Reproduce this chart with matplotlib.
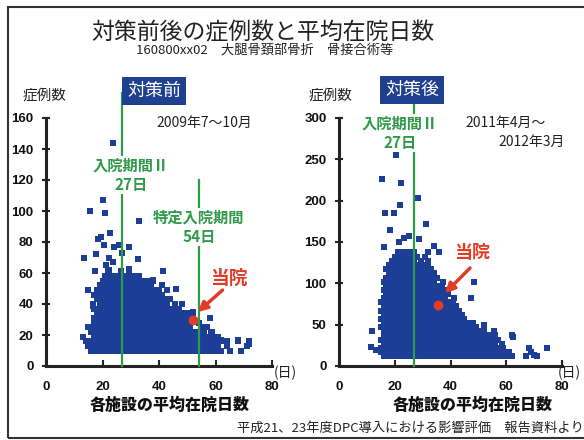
import matplotlib.pyplot as plt
from matplotlib.patches import Rectangle

plt.rcParams['font.family'] = ['Noto Sans CJK JP', 'DejaVu Sans']

W, H = 584, 440

# 対策前 (2009年7〜10月): 症例数ごとの各施設の平均在院日数
before_rows = [
    (10, [16, 18, 20, 22, 24, 26, 28, 30, 32, 34, 36, 38, 40, 42, 44, 46, 48, 50, 52, 54, 56, 58, 60, 62, 65, 69]),
    (13, [15, 17, 19, 21, 23, 25, 27, 29, 31, 33, 35, 37, 39, 41, 43, 45, 47, 49, 51, 53, 55, 57, 59, 61, 64, 71]),
    (16, [14, 16, 18, 20, 22, 24, 26, 28, 30, 32, 34, 36, 38, 40, 42, 44, 46, 48, 50, 52, 54, 56, 58, 60, 62, 64, 68, 72]),
    (19, [13, 17, 19, 21, 23, 25, 27, 29, 31, 33, 35, 37, 39, 41, 43, 45, 47, 49, 51, 53, 55, 57, 59, 61]),
    (22, [16, 18, 20, 22, 24, 26, 28, 30, 32, 34, 36, 38, 40, 42, 44, 46, 48, 50, 52, 54, 56, 58.5]),
    (25, [15, 17, 19, 21, 23, 25, 27, 29, 31, 33, 35, 37, 39, 41, 43, 45, 47, 49, 51, 55, 57]),
    (28, [17, 19, 21, 23, 25, 27, 29, 31, 33, 35, 37, 39, 41, 43, 45, 47, 49, 51, 54]),
    (31, [17, 19, 21, 23, 25, 27, 29, 31, 33, 35, 37, 39, 41, 43, 45, 47, 49, 51, 58]),
    (34, [18, 20, 22, 24, 26, 28, 30, 32, 34, 36, 38, 40, 42, 44, 46, 48, 50, 52]),
    (37, [17, 19, 21, 23, 25, 27, 29, 31, 33, 35, 37, 39, 41, 43, 45, 47]),
    (40, [16.5, 19, 21, 23, 25, 27, 29, 31, 33, 35, 37, 39, 41, 43, 45.5, 48]),
    (43, [18, 20, 22, 24, 26, 28, 30, 32, 34, 36, 38, 40, 42, 44]),
    (46, [17, 19, 21, 23, 25, 27, 29, 31, 33, 35, 37, 39, 41]),
    (49, [15, 18, 20, 22, 24, 26, 28, 30, 32, 34, 36, 38, 40, 43]),
    (52, [19, 21, 23, 25, 27, 29, 31, 33, 35, 37, 41]),
    (55, [20, 22, 24, 26, 28, 30, 32, 34, 36, 38]),
    (58, [21, 23, 25, 27, 29, 31, 33]),
    (61, [17.5, 22, 26.5, 29.5, 41.3]),
]
before_days = [23.7, 20.1, 15.5, 20.8, 32.8, 22.6, 18.4, 19.4, 20.5, 24.0, 29.3, 25.8,
               26.9, 13.4, 17.7, 22.3, 23.7, 21.2, 32.5, 22.3, 29.3, 37.8, 46.0, 52.0,
               15.9, 16.6, 58.6, 61.8, 68.0, 71.8]
before_cases = [144, 107, 100, 99, 93.5, 86, 82, 83, 78, 77, 77, 78,
                73, 70, 72, 70, 67, 65, 69, 62, 62.5, 55.5, 50, 35,
                25, 39, 22, 17, 17, 14]

# 対策後 (2011年4月〜2012年3月)
after_rows = [
    (12, [16, 18, 20, 22, 24, 26, 28, 30, 32, 34, 36, 38, 40, 42, 44, 46, 48, 50, 52, 54, 56, 58, 60, 62, 67, 71]),
    (17, [15, 17, 19, 21, 23, 25, 27, 29, 31, 33, 35, 37, 39, 41, 43, 45, 47, 49, 51, 53, 55, 57, 59, 61, 69]),
    (22, [15, 17, 19, 21, 23, 25, 27, 29, 31, 33, 35, 37, 39, 41, 43, 45, 47, 49, 51, 53, 55, 57, 59, 68, 74.5]),
    (27, [16, 18, 20, 22, 24, 26, 28, 30, 32, 34, 36, 38, 40, 42, 44, 46, 48, 50, 52, 54, 56, 58.5]),
    (32, [15, 17, 19, 21, 23, 25, 27, 29, 31, 33, 35, 37, 39, 41, 43, 45, 47, 49, 51, 53, 55, 57]),
    (37, [16, 18, 20, 22, 24, 26, 28, 30, 32, 34, 36, 38, 40, 42, 44, 46, 48, 50, 52, 54, 56, 62]),
    (42, [12, 16, 18, 20, 22, 24, 26, 28, 30, 32, 34, 36, 38, 40, 42, 44, 46, 48, 50, 52, 55.5]),
    (47, [15, 17, 19, 21, 23, 25, 27, 29, 31, 33, 35, 37, 39, 41, 43, 45, 47, 49, 52]),
    (52, [16, 18, 20, 22, 24, 26, 28, 30, 32, 34, 36, 38, 40, 42, 44, 46, 48]),
    (57, [15, 17, 19, 21, 23, 25, 27, 29, 31, 33, 35, 37, 39, 41, 43, 45]),
    (62, [16, 18, 20, 22, 24, 26, 28, 30, 32, 34, 36, 38, 40, 42, 44]),
    (67, [15, 17, 19, 21, 23, 25, 27, 29, 31, 33, 35, 37, 39, 41, 43]),
    (72, [16, 18, 20, 22, 24, 26, 28, 30, 32, 34, 36, 38, 40, 42]),
    (77, [15, 17, 19, 21, 23, 25, 27, 29, 31, 33, 35, 37, 39, 41]),
    (82, [16, 18, 20, 22, 24, 26, 28, 30, 32, 34, 36, 38, 41.2, 47.3]),
    (87, [17, 19, 21, 23, 25, 27, 29, 31, 33, 35, 37, 39]),
    (92, [16, 18, 20, 22, 24, 26, 28, 30, 32, 34, 36, 38]),
    (97, [17, 19, 21, 23, 25, 27, 29, 31, 33, 35, 37]),
    (102, [16, 18, 20, 22, 24, 26, 28, 30, 32, 34, 37.3, 48.4]),
    (107, [17, 19, 21, 23, 25, 27, 29, 31, 33, 35]),
    (112, [18, 20, 22, 24, 26, 28, 30, 32, 34]),
    (117, [17, 19, 21, 23, 25, 27, 29, 31, 33]),
    (122, [18, 20, 22, 24, 26, 28, 30, 32]),
    (127, [19, 21, 23, 25, 27, 29.4, 32]),
    (132, [20, 22, 24, 26, 28, 31]),
    (138, [21, 23, 25, 27, 31.9, 35.8]),
]
after_days = [20.4, 15.4, 22.2, 28.3, 21.9, 19.7, 16.5, 31.2, 18.3, 25.1, 23.3, 28.7,
              21.5, 34.0, 16.1, 17.9, 11.5, 13.3, 52.0, 62.4, 68.8, 70.0]
after_cases = [255, 226, 221, 203, 195, 185, 185, 172, 164, 157, 155, 154,
               150, 145, 144, 120, 23, 19, 50, 35, 17, 13]

# 当院 (平均在院日数, 症例数)
own_before = (52, 30)
own_after = (35.5, 74)

blue = '#1d3e96'
green = '#2f9a48'
red = '#e23c26'


def fx(px):
    return px / W


def fy(py):
    return 1 - py / H


fig = plt.figure(figsize=(W / 100, H / 100), dpi=100)
fig.add_artist(Rectangle((fx(8), fy(438)), 1.0, (438 - 7) / H, transform=fig.transFigure,
                         fill=False, edgecolor='#333333', linewidth=1.5))

axL = fig.add_axes([fx(46), fy(366), 226 / W, 248 / H])
axR = fig.add_axes([fx(339), fy(366), 223 / W, 248 / H])


def scatter_rows(ax, rows, days, cases, own):
    xs, ys = [], []
    for c, ds in rows:
        xs += ds
        ys += [c] * len(ds)
    ax.scatter(xs + days, ys + cases, marker='s', s=21, color=blue, linewidths=0, zorder=3)
    ax.scatter([own[0]], [own[1]], marker='o', s=50, color=red, linewidths=0, zorder=4)


def style_axes(ax, ymax, ystep):
    ax.set_xlim(0, 80)
    ax.set_ylim(0, ymax)
    ax.set_xticks(range(0, 81, 20))
    ax.set_yticks(range(0, ymax + 1, ystep))
    for s in ('top', 'right'):
        ax.spines[s].set_visible(False)
    for s in ('left', 'bottom'):
        ax.spines[s].set_linewidth(2.2)
        ax.spines[s].set_color('#222222')
    ax.tick_params(axis='y', direction='inout', length=6, width=1.5, pad=6, colors='#222222')
    ax.tick_params(axis='x', direction='in', length=4, width=1.5, pad=11, colors='#222222')
    for lab in ax.get_xticklabels() + ax.get_yticklabels():
        lab.set_fontfamily('Liberation Sans')
        lab.set_fontweight('bold')
        lab.set_fontsize(9.5)
        lab.set_color('#111111')


scatter_rows(axL, before_rows, before_days, before_cases, own_before)
scatter_rows(axR, after_rows, after_days, after_cases, own_after)
style_axes(axL, 160, 20)
style_axes(axR, 300, 50)

# 入院期間Ⅱ / 特定入院期間
axL.plot([27, 27], [0, 176], color=green, lw=1.6, clip_on=False, zorder=5)
axL.plot([54, 54], [0, 120], color=green, lw=1.6, clip_on=False, zorder=5)
axR.plot([27, 27], [0, 334], color=green, lw=1.6, clip_on=False, zorder=5)

# 当院 arrows
axL.annotate('', xy=(53.7, 34.8), xytext=(62.5, 49),
             arrowprops=dict(arrowstyle='-|>', lw=2.5, color=red, mutation_scale=14,
                             shrinkA=0, shrinkB=0), zorder=6)
axR.annotate('', xy=(38, 88), xytext=(47, 118.5),
             arrowprops=dict(arrowstyle='-|>', lw=2.5, color=red, mutation_scale=14,
                             shrinkA=0, shrinkB=0), zorder=6)

white = dict(facecolor='white', edgecolor='none', pad=1)
fig.text(fx(131), fy(175), '入院期間Ⅱ\n27日', ha='center', va='center', fontsize=11,
         fontweight='bold', color=green, linespacing=1.3, bbox=white, zorder=7)
fig.text(fx(199), fy(227), '特定入院期間\n54日', ha='center', va='center', fontsize=11,
         fontweight='bold', color=green, linespacing=1.3, bbox=white, zorder=7)
fig.text(fx(400), fy(133), '入院期間Ⅱ\n27日', ha='center', va='center', fontsize=11,
         fontweight='bold', color=green, linespacing=1.3, bbox=white, zorder=7)

fig.text(fx(229), fy(278), '当院', ha='center', va='center', fontsize=13.5,
         fontweight='bold', color=red)
fig.text(fx(472), fy(252), '当院', ha='center', va='center', fontsize=13,
         fontweight='bold', color=red)

# headings
fig.text(fx(263), fy(33), '対策前後の症例数と平均在院日数', ha='center', va='center',
         fontsize=16.5, color='#222222')
fig.text(fx(265), fy(50), '160800xx02　大腿骨頚部骨折　骨接合術等', ha='center', va='center',
         fontsize=9.5, color='#222222')

box = dict(facecolor='#1f3f8f', edgecolor='none', boxstyle='square,pad=0.25')
fig.text(fx(154), fy(91), '対策前', ha='center', va='center', fontsize=13,
         color='white', bbox=box)
fig.text(fx(412), fy(90), '対策後', ha='center', va='center', fontsize=13,
         color='white', bbox=box)

fig.text(fx(44), fy(96), '症例数', ha='center', va='center', fontsize=10.5, color='#222222')
fig.text(fx(330), fy(96), '症例数', ha='center', va='center', fontsize=10.5, color='#222222')

fig.text(fx(204), fy(123), '2009年7〜10月', ha='center', va='center', fontsize=10, color='#222222')
fig.text(fx(465), fy(123), '2011年4月〜', ha='left', va='center', fontsize=10, color='#222222')
fig.text(fx(498), fy(142), '2012年3月', ha='left', va='center', fontsize=10, color='#222222')

fig.text(fx(274), fy(373), '(日)', ha='left', va='center', fontsize=10, color='#222222')
fig.text(fx(558), fy(373), '(日)', ha='left', va='center', fontsize=10, color='#222222')

fig.text(fx(170), fy(405), '各施設の平均在院日数', ha='center', va='center', fontsize=11.5,
         fontweight='heavy', color='#111111')
fig.text(fx(473), fy(405), '各施設の平均在院日数', ha='center', va='center', fontsize=11.5,
         fontweight='heavy', color='#111111')

fig.text(fx(237), fy(428), '平成21、23年度DPC導入における影響評価　報告資料より', ha='left',
         va='center', fontsize=9.5, color='#222222')

fig.savefig('out.png', dpi=100)
